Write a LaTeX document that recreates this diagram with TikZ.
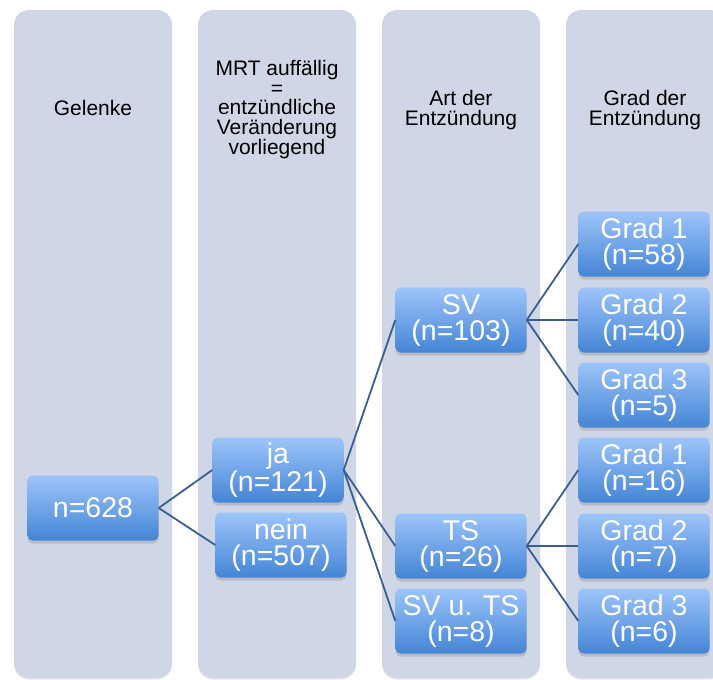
\documentclass[tikz,border=0pt]{standalone}
\usepackage{fontspec}
\setmainfont{Liberation Sans}
\usetikzlibrary{shadows}

\definecolor{laneblue}{RGB}{207,214,229}
\definecolor{knottop}{RGB}{157,196,250}
\definecolor{knotbot}{RGB}{68,133,213}
\definecolor{linkblue}{RGB}{58,94,146}

\begin{document}
\begin{tikzpicture}[
        x=1pt, y=-1pt,
        font=\fontsize{21}{19.5}\selectfont,
        lane/.style={
            fill=laneblue, rounded corners=15pt,
            minimum width=158pt, minimum height=668pt,
            drop shadow={shadow xshift=0pt, shadow yshift=-1.5pt, opacity=0.2}
        },
        head/.style={align=center, inner sep=0pt},
        knot/.style={
            rounded corners=5pt, align=center, inner sep=0pt,
            minimum width=131pt, minimum height=65pt,
            top color=knottop, bottom color=knotbot, text=white,
            font=\fontsize{28.5}{26}\selectfont,
            drop shadow={shadow xshift=0pt, shadow yshift=-3pt, opacity=0.3}
        },
        link/.style={draw=linkblue, line width=1.8pt}
        ]

        \clip (0,0) rectangle (713,680);

        % --- Background lanes ---
        \node[lane] (lane1) at (93,344) {};
        \node[lane] (lane2) at (277,344) {};
        \node[lane] (lane3) at (461,344) {};
        \node[lane] (lane4) at (645,344) {};

        % --- Lane headings ---
        \node[head] (hgelenke) at (93,108) {Gelenke};
        \node[head] (hmrt) at (277,110)
        {MRT auff\"allig\\=\\entz\"undliche\\Ver\"anderung\\vorliegend};
        \node[head] (hart) at (461,110) {Art der\\Entz\"undung};
        \node[head] (hgrad) at (645,110) {Grad der\\Entz\"undung};

        % --- Boxes ---
        \node[knot] (root) at (93,508) {n=628};

        \node[knot] (ja) at (278,470) {ja\\(n=121)};
        \node[knot] (nein) at (281,545) {nein\\(n=507)};

        \node[knot] (sv) at (461,320) {SV\\(n=103)};
        \node[knot] (ts) at (461,546) {TS\\(n=26)};
        \node[knot] (svts) at (461,621) {SV u. TS\\(n=8)};

        \node[knot] (svg1) at (644,244) {Grad 1\\(n=58)};
        \node[knot] (svg2) at (644,320) {Grad 2\\(n=40)};
        \node[knot] (svg3) at (644,395) {Grad 3\\(n=5)};

        \node[knot] (tsg1) at (644,470) {Grad 1\\(n=16)};
        \node[knot] (tsg2) at (644,546) {Grad 2\\(n=7)};
        \node[knot] (tsg3) at (644,621) {Grad 3\\(n=6)};

        % --- Connectors ---
        \draw[link] (root.east) -- (ja.west);
        \draw[link] (root.east) -- (nein.west);

        \draw[link] (ja.east) -- (sv.west);
        \draw[link] (ja.east) -- (ts.west);
        \draw[link] (ja.east) -- (svts.west);

        \draw[link] (sv.east) -- (svg1.west);
        \draw[link] (sv.east) -- (svg2.west);
        \draw[link] (sv.east) -- (svg3.west);

        \draw[link] (ts.east) -- (tsg1.west);
        \draw[link] (ts.east) -- (tsg2.west);
        \draw[link] (ts.east) -- (tsg3.west);

    \end{tikzpicture}
\end{document}
